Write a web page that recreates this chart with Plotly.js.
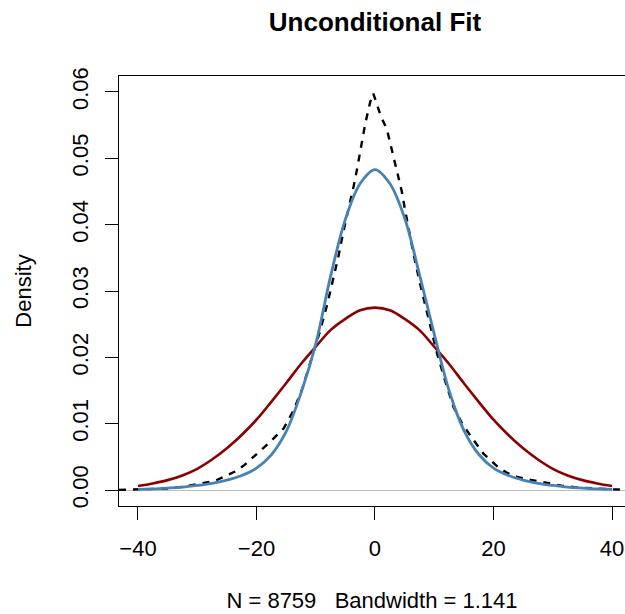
<!DOCTYPE html>
<html>
<head>
<meta charset="utf-8">
<script src="https://cdn.plot.ly/plotly-3.0.1.min.js"></script>
<style>html,body{margin:0;padding:0;background:#fff;}#chart{width:625px;height:614px;}</style>
</head>
<body>
<div id="chart"></div>
<script>
// Kernel density estimate (dashed black)
var kdeX = [-43.2, -40, -37, -34.6, -32, -30.6, -29, -27, -25.5, -23.6, -22, -20.5, -18, -15.4, -13.75, -12.3, -10.9, -9.4, -8, -6.2, -5.3, -4.5, -3.6, -3.0, -2.2, -1.65, -0.8, -0.3, 0.3, 1.0, 2.0, 2.85, 3.7, 4.5, 5.1, 6.5, 7.6, 8.8, 10.5, 12.0, 13.25, 14.6, 16.1, 18.3, 20.7, 22.3, 24, 26, 27.9, 29.7, 31.5, 34, 37, 40, 43.2];
var kdeY = [0.00003, 0.00008, 0.00015, 0.00025, 0.00055, 0.0008, 0.0010, 0.0014, 0.0020, 0.0028, 0.0038, 0.0050, 0.0070, 0.0093, 0.0120, 0.0152, 0.0191, 0.0236, 0.0282, 0.0351, 0.0391, 0.0421, 0.0458, 0.0485, 0.0522, 0.0552, 0.0585, 0.0598, 0.0582, 0.0563, 0.0544, 0.0512, 0.0482, 0.0451, 0.0421, 0.0356, 0.0311, 0.0266, 0.0205, 0.0160, 0.0125, 0.0102, 0.0082, 0.0055, 0.0035, 0.0026, 0.0020, 0.0016, 0.00125, 0.0009, 0.00065, 0.0004, 0.0002, 0.0001, 0.00005];

// Normal fit (dark red)
var normX = [-40, -37.5, -35, -32.5, -30, -27.5, -25, -22.5, -20, -17.5, -15, -12.5, -10, -7.5, -5, -2.5, 0, 2.5, 5, 7.5, 10, 12.5, 15, 17.5, 20, 22.5, 25, 27.5, 30, 32.5, 35, 37.5, 40];
var normY = [0.0006, 0.0010, 0.0015, 0.0022, 0.0032, 0.0046, 0.0063, 0.0083, 0.0106, 0.0133, 0.0161, 0.0190, 0.0216, 0.0241, 0.0258, 0.0271, 0.0275, 0.0271, 0.0258, 0.0241, 0.0216, 0.0190, 0.0161, 0.0133, 0.0106, 0.0083, 0.0063, 0.0046, 0.0032, 0.0022, 0.0015, 0.0010, 0.0006];

// Fitted density (steel blue)
var fitX = [-40, -37.5, -35, -32.5, -30, -27.5, -25, -22.5, -20, -17.5, -15, -12.5, -10, -7.5, -5, -2.5, 0, 2.5, 5, 7.5, 10, 12.5, 15, 17.5, 20, 22.5, 25, 27.5, 30, 32.5, 35, 37.5, 40];
var fitY = [0.00012, 0.00018, 0.0003, 0.00045, 0.0007, 0.0010, 0.0015, 0.0022, 0.0033, 0.0053, 0.0088, 0.0146, 0.0220, 0.0322, 0.0408, 0.0462, 0.0483, 0.0462, 0.0410, 0.0325, 0.0235, 0.0150, 0.0090, 0.0054, 0.0033, 0.0022, 0.0015, 0.0010, 0.0007, 0.00045, 0.0003, 0.00018, 0.00012];

// Ticks and texts
var xTickVals = [-40, -20, 0, 20, 40];
var yTickVals = [0.00, 0.01, 0.02, 0.03, 0.04, 0.05, 0.06];
var yTickText = ["0.00", "0.01", "0.02", "0.03", "0.04", "0.05", "0.06"];
var titleText = "Unconditional Fit";
var xLabel = "N = 8759   Bandwidth = 1.141";
var yLabel = "Density";

var FONT = "Liberation Sans, Arial, Helvetica, sans-serif";

var traces = [
  {x: kdeX, y: kdeY, type: "scatter", mode: "lines", name: "KDE",
   line: {color: "#000000", width: 2.4, dash: "7px,7px", shape: "linear"}, showlegend: false},
  {x: normX, y: normY, type: "scatter", mode: "lines", name: "Normal",
   line: {color: "#8B0000", width: 2.6, shape: "spline", smoothing: 1}, showlegend: false},
  {x: fitX, y: fitY, type: "scatter", mode: "lines", name: "Fit",
   line: {color: "#4682B4", width: 2.8, shape: "spline", smoothing: 1}, showlegend: false}
];

var layout = {
  width: 625, height: 614,
  margin: {l: 119, r: 0, t: 76, b: 108},
  paper_bgcolor: "#ffffff", plot_bgcolor: "#ffffff",
  font: {family: FONT, size: 22, color: "#000000"},
  showlegend: false,
  title: {text: "<b>" + titleText + "</b>", font: {family: FONT, size: 26, color: "#000"},
          x: 0.6, xref: "container", xanchor: "center", y: 0.965, yref: "container", yanchor: "middle"},
  xaxis: {
    range: [-43.2, 42.19], autorange: false,
    tickvals: xTickVals, ticks: "outside", ticklen: 13, tickwidth: 1, tickcolor: "#000",
    ticklabelstandoff: 9,
    showline: true, mirror: true, linecolor: "#000", linewidth: 1.3,
    showgrid: false, zeroline: false,
    tickfont: {family: FONT, size: 22},
    title: {text: xLabel, font: {family: FONT, size: 22}, standoff: 33}
  },
  yaxis: {
    range: [-0.0024, 0.0624], autorange: false,
    tickvals: yTickVals, ticktext: yTickText, ticks: "outside", ticklen: 13, tickwidth: 1, tickcolor: "#000",
    tickangle: -90, ticklabelstandoff: 8,
    showline: true, mirror: false, linecolor: "#000", linewidth: 1.3,
    showgrid: false, zeroline: true, zerolinecolor: "#bebebe", zerolinewidth: 1,
    tickfont: {family: FONT, size: 22},
    title: {text: yLabel, font: {family: FONT, size: 22}, standoff: 30}
  }
};

Plotly.newPlot("chart", traces, layout, {staticPlot: true, displayModeBar: false});
</script>
</body>
</html>
